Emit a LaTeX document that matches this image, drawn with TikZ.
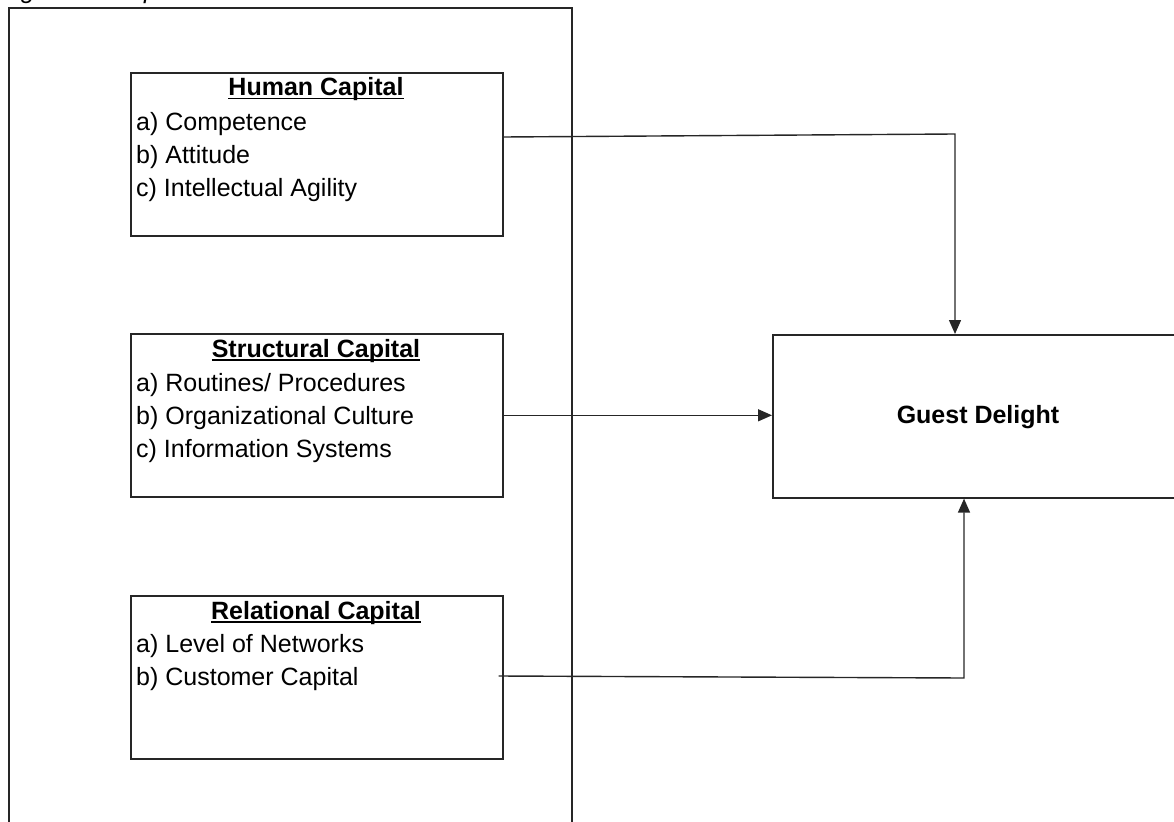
\documentclass[tikz,border=0pt]{standalone}
\usepackage{fontspec}
\setmainfont{Liberation Sans}
\usetikzlibrary{arrows.meta,calc}
\newcommand\myul[1]{\setbox0\hbox{#1}\rlap{\rule[-3.5pt]{\wd0}{1.6pt}}\box0}
\tikzset{
  box/.style={draw=black!85,line width=1.6pt,anchor=north west,inner sep=0pt,minimum width=372pt,minimum height=163pt},
  ttl/.style={anchor=base,inner sep=0pt,font=\fontsize{25}{30}\selectfont\bfseries},
  itm/.style={anchor=base west,inner sep=0pt,font=\fontsize{25}{30}\selectfont},
  arr/.style={draw=black!85,line width=1.4pt,-{Triangle[length=14pt,width=12pt]}},
  con/.style={draw=black!85,line width=1.4pt}
}
\begin{document}
\begin{tikzpicture}[x=1pt,y=-1pt]
\useasboundingbox (0,0) rectangle (1174,821);
\begin{scope}
\clip (0,0) rectangle (1174,821);
\node[anchor=base west,inner sep=0pt,font=\fontsize{25}{30}\selectfont\itshape] (cap) at (0,-1) {Fig 1: Conceptual Model};
\node[draw=black!85,line width=1.8pt,anchor=north west,inner sep=0pt,minimum width=563pt,minimum height=850pt] (outer) at (8,7) {};
% Human capital
\node[box] (hc) at (130,72) {};
\node[ttl] (hct) at (316,96) {\myul{Human Capital}};
\node[itm] (hc1) at (136,130.5) {a) Competence};
\node[itm] (hc2) at (136,163.5) {b) Attitude};
\node[itm] (hc3) at (136,196.5) {c) Intellectual Agility};
% Structural capital
\node[box] (sc) at (130,333) {};
\node[ttl] (sct) at (316,357) {\myul{Structural Capital}};
\node[itm] (sc1) at (136,391) {a) Routines/ Procedures};
\node[itm] (sc2) at (136,424) {b) Organizational Culture};
\node[itm] (sc3) at (136,457) {c) Information Systems};
% Relational capital
\node[box] (rc) at (130,595) {};
\node[ttl] (rct) at (316,619) {\myul{Relational Capital}};
\node[itm] (rc1) at (136,652.5) {a) Level of Networks};
\node[itm] (rc2) at (136,685.5) {b) Customer Capital};
% Guest delight
\node[draw=black!85,line width=1.6pt,anchor=north west,inner sep=0pt,minimum width=430pt,minimum height=163pt] (gd) at (772,334) {};
\node[ttl] (gdt) at (978,423) {Guest Delight};
% connectors
\coordinate (h1) at (955,134);
\coordinate (r1) at (964,678);
\draw[arr] ([yshift=-65pt]hc.north east) -- (h1) -- (h1 |- gd.north);
\draw[arr] (sc.east) -- (sc.east -| gd.west);
\draw[arr] ([xshift=-5pt,yshift=-81pt]rc.north east) -- (r1) -- (r1 |- gd.south);
\end{scope}
\end{tikzpicture}
\end{document}
